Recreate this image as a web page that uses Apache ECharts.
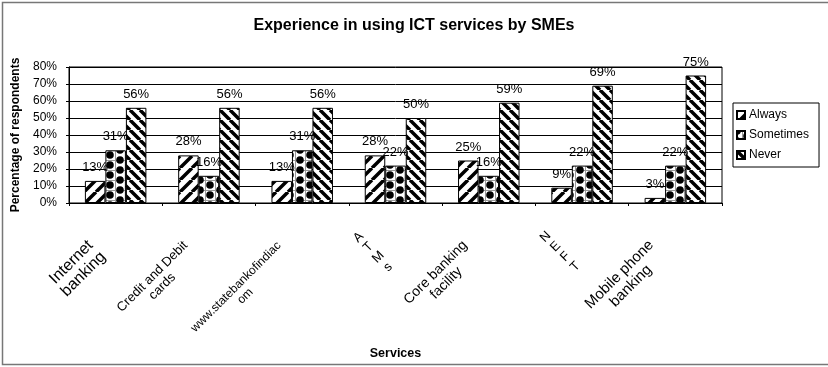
<!DOCTYPE html>
<html>
<head>
<meta charset="utf-8">
<script src="https://cdn.jsdelivr.net/npm/echarts@6/dist/echarts.min.js"></script>
<style>
html,body{margin:0;padding:0;background:#fff;}
#main{width:828px;height:367px;}
</style>
</head>
<body>
<div id="main"></div>
<script>
// 类别与数据
var categories = ['Internet\nbanking', 'Credit and Debit\ncards', 'www.statebankofindiac\nom', 'A\nT\nM\ns', 'Core banking\nfacility', 'N\nE\nF\nT', 'Mobile phone\nbanking'];
var seriesNames = ['Always', 'Sometimes', 'Never'];
var always = [13, 28, 13, 28, 25, 9, 3];
var sometimes = [31, 16, 31, 22, 16, 22, 22];
var never = [56, 56, 56, 50, 59, 69, 75];
var yTicks = [0, 10, 20, 30, 40, 50, 60, 70, 80];

// 每个类别标签的字号（原图各不相同）
var labelSizes = [16, 13, 12, 13, 14, 13, 15];

// 填充图案
function stripe(dir, size, lw) {
	var c = document.createElement('canvas');
	c.width = size; c.height = size;
	var g = c.getContext('2d');
	g.fillStyle = '#fff'; g.fillRect(0, 0, size, size);
	g.strokeStyle = '#000'; g.lineWidth = lw;
	g.beginPath();
	for (var k = -1; k <= 1; k++) {
		if (dir > 0) {
			g.moveTo(k * size, size); g.lineTo(k * size + size, 0);
		} else {
			g.moveTo(k * size, 0); g.lineTo(k * size + size, size);
		}
	}
	g.stroke();
	return {image: c, repeat: 'repeat'};
}
function dots() {
	var c = document.createElement('canvas');
	c.width = 20; c.height = 10;
	var g = c.getContext('2d');
	g.fillStyle = '#fff'; g.fillRect(0, 0, 20, 10);
	g.strokeStyle = '#999'; g.lineWidth = 1;
	g.beginPath();
	g.moveTo(0, 0.5); g.lineTo(20, 0.5);
	g.moveTo(5.5, 0); g.lineTo(5.5, 10);
	g.moveTo(15.5, 0); g.lineTo(15.5, 10);
	g.stroke();
	g.fillStyle = '#000';
	var pts = [[10, 5], [0, 0], [20, 0], [0, 10], [20, 10]];
	pts.forEach(function (p) {
		g.beginPath(); g.arc(p[0], p[1], 3.8, 0, Math.PI * 2); g.fill();
	});
	return {image: c, repeat: 'repeat'};
}
var fills = [stripe(1, 12, 3.5), dots(), stripe(-1, 10, 3.5)];

var font = 'Liberation Sans';
var chart = echarts.init(document.getElementById('main'));

function bar(name, data, i) {
	return {
		name: name,
		type: 'bar',
		data: data,
		barWidth: 20.5,
		barGap: '0%',
		itemStyle: {color: fills[i], borderColor: '#000', borderWidth: 1},
		label: {show: true, position: 'top', distance: 7, formatter: '{c}%', color: '#000', fontFamily: font, fontSize: 13},
		emphasis: {disabled: true}
	};
}

var rich = {};
labelSizes.forEach(function (s, i) {
	rich['c' + i] = {align: 'center', fontFamily: font, fontSize: s, color: '#000', lineHeight: Math.round(s * 1.05)};
});

chart.setOption({
	animation: false,
	backgroundColor: '#fff',
	textStyle: {fontFamily: font},
	title: {
		text: 'Experience in using ICT services by SMEs',
		left: 'center', top: 13,
		textStyle: {fontFamily: font, fontSize: 16, fontWeight: 'bold', color: '#000'}
	},
	graphic: [{
		type: 'rect', silent: true,
		shape: {x: 2.5, y: 2.5, width: 840, height: 362},
		style: {fill: 'none', stroke: '#777', lineWidth: 1.5}
	}],
	legend: {
		orient: 'vertical',
		left: 733, top: 103,
		width: 89, height: 64,
		padding: [6, 10, 6, 3],
		itemGap: 8,
		itemWidth: 8, itemHeight: 8,
		icon: 'rect',
		borderColor: '#000', borderWidth: 1,
		backgroundColor: '#fff',
		textStyle: {fontFamily: font, fontSize: 12, color: '#000', padding: [0, 0, 0, -1]},
		data: seriesNames
	},
	grid: {left: 69, right: 106, top: 67, bottom: 164, show: true, borderColor: '#000', borderWidth: 1},
	xAxis: {
		type: 'category',
		data: categories,
		name: 'Services',
		nameLocation: 'middle',
		nameGap: 139,
		nameTextStyle: {fontFamily: font, fontSize: 12.5, fontWeight: 'bold', color: '#000'},
		axisLine: {lineStyle: {color: '#000', width: 1}},
		axisTick: {show: true, length: 3, lineStyle: {color: '#000'}},
		axisLabel: {
			interval: 0, rotate: 45, margin: 27,
			padding: [0, 26, 0, 0],
			fontFamily: font, fontSize: 13, color: '#000',
			formatter: function (v, idx) {
				return v.split('\n').map(function (s) { return '{c' + idx + '|' + s + '}'; }).join('\n');
			},
			rich: rich
		}
	},
	yAxis: {
		type: 'value',
		min: yTicks[0], max: yTicks[yTicks.length - 1], interval: 10,
		name: 'Percentage of respondents',
		nameLocation: 'middle',
		nameGap: 46,
		nameTextStyle: {fontFamily: font, fontSize: 12, fontWeight: 'bold', color: '#000'},
		axisLine: {show: true, lineStyle: {color: '#000'}},
		axisTick: {show: true, length: 3, lineStyle: {color: '#000'}},
		axisLabel: {formatter: '{value}%', fontFamily: font, fontSize: 12, color: '#000', margin: 12},
		splitLine: {lineStyle: {color: '#000', width: 1}}
	},
	series: [bar(seriesNames[0], always, 0), bar(seriesNames[1], sometimes, 1), bar(seriesNames[2], never, 2)]
});
</script>
</body>
</html>
